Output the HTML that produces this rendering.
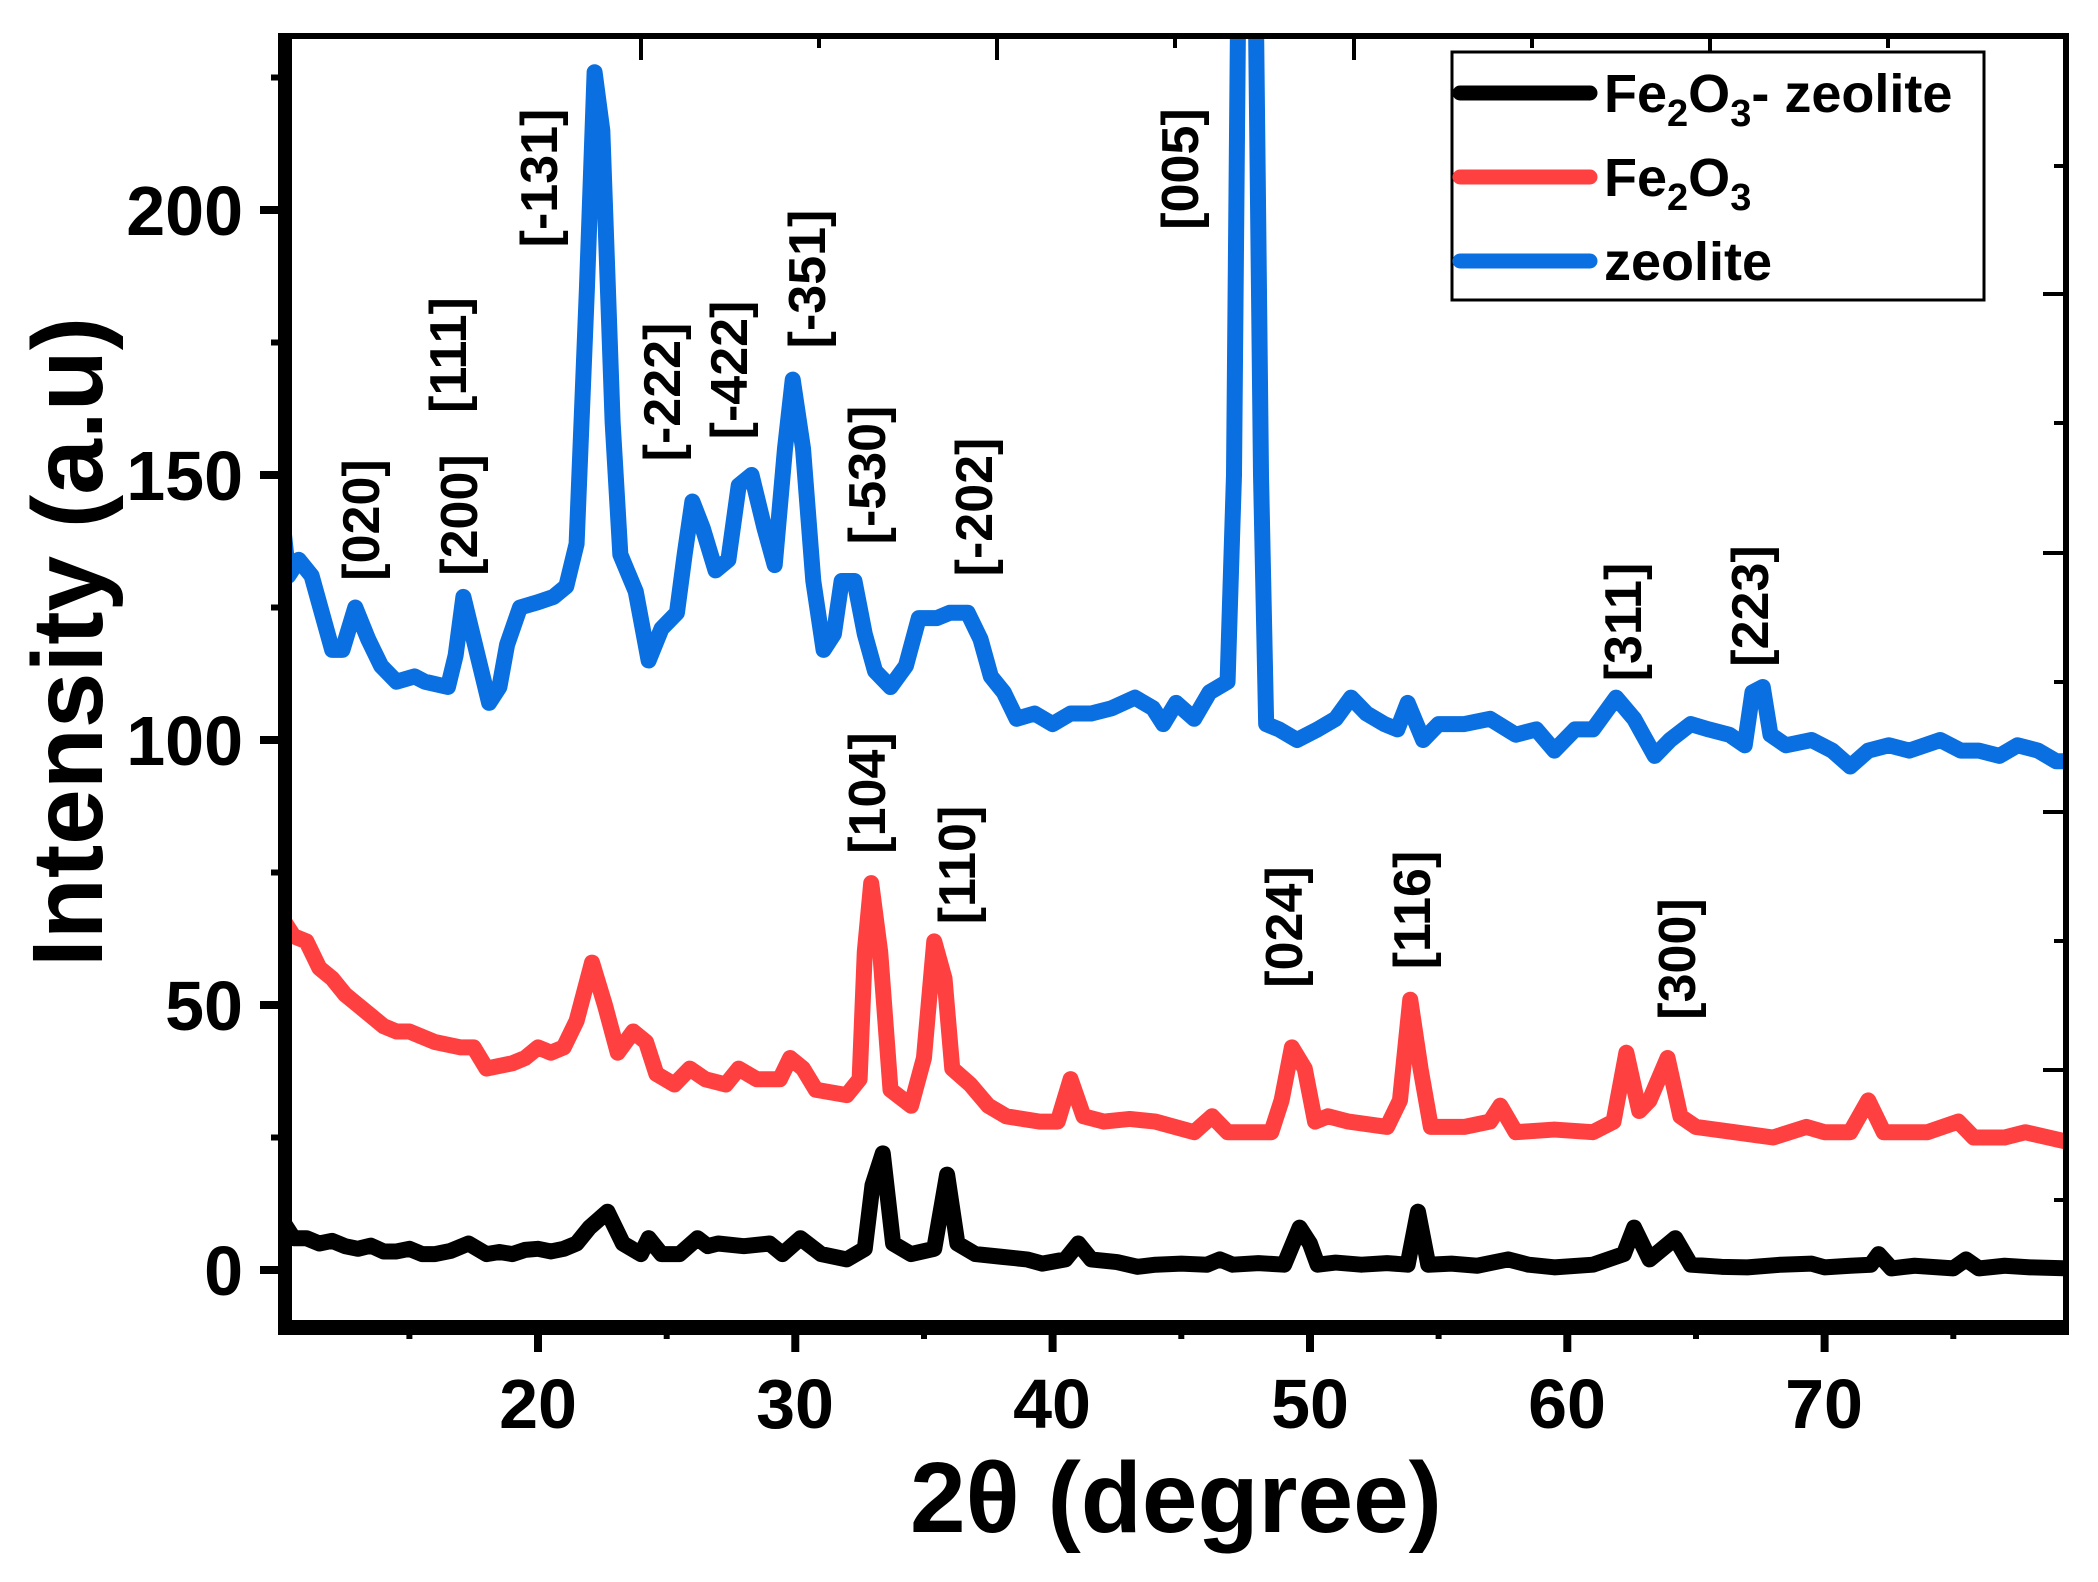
<!DOCTYPE html>
<html><head><meta charset="utf-8"><style>
html,body{margin:0;padding:0;background:#fff;}
svg{display:block;}
text{font-family:"Liberation Sans",Arial,sans-serif;font-weight:bold;fill:#000;}
</style></head><body>
<svg width="2098" height="1582" viewBox="0 0 2098 1582" xmlns="http://www.w3.org/2000/svg">
<defs><clipPath id="cp"><rect x="285" y="38" width="1779" height="1284"/></clipPath></defs>
<g clip-path="url(#cp)">
<g transform="matrix(25.73 0 0 -5.3 23.4 1270)" fill="none" stroke-width="16" stroke-linejoin="round" stroke-linecap="round">
<polyline vector-effect="non-scaling-stroke" stroke="#000" points="10.1,9 10.5,6 11,6 11.5,5 12,5.5 12.5,4.5 13,4 13.5,4.6 14,3.5 14.5,3.5 15,4 15.5,3 16,3 16.6,3.6 17.3,5 18,3 18.5,3.4 19,3 19.5,3.8 20,4 20.5,3.5 21,4 21.5,5 22,8 22.7,11 23.3,5 24,3 24.3,6 24.8,3 25.5,3 26.2,6 26.6,4.5 27,5 28,4.5 29,5 29.5,3 30.2,6 31,3 32,2 32.7,4 33.0,16 33.4,22 33.8,5 34.5,3 35.4,4 35.9,18 36.3,5 37,3 38,2.5 39,2 39.6,1.2 40.5,2 41,5 41.5,2 42.5,1.5 43.3,0.6 44,1 45,1.2 46,1 46.5,2 47,1 48,1.3 49,1 49.6,8 50,5 50.3,1 51,1.4 52,1 53,1.3 53.8,1 54.2,11 54.6,1 55.5,1.2 56.5,0.8 57.7,2 58.5,1 59.5,0.5 61,1 62.2,3 62.6,8 63.2,2 64.2,6 64.8,1 66,0.6 67,0.5 68.3,1 69.5,1.2 70,0.5 71,0.8 71.8,1 72.1,3 72.6,0.3 73.5,0.8 75,0.3 75.5,2 76,0.3 77,0.8 78,0.5 79.6,0.3"/>
<polyline vector-effect="non-scaling-stroke" stroke="#ff4040" points="10.1,66 10.5,63 11,62 11.5,57 12,55 12.5,52 13,50 13.5,48 14,46 14.5,45 15,45 16,43 17,42 17.5,42 18,38 19,39 19.5,40 20,42 20.5,41 21,42 21.5,47 22.1,58 22.6,50 23.1,41 23.7,45 24.2,43 24.6,37 25.3,35 25.9,38 26.5,36 27.3,35 27.8,38 28.5,36 29.4,36 29.8,40 30.3,38 30.8,34 32,33 32.5,36 32.7,60 32.95,73 33.3,60 33.7,34 34.5,31 35.0,40 35.4,62 35.8,55 36.1,38 36.8,35 37.5,31 38.2,29 39.5,28 40.2,28 40.7,36 41.2,29 42,28 43,28.5 44,28 45.5,26 46.2,29 46.8,26 48.5,26 48.9,32 49.3,42 49.8,38 50.2,28 50.7,29 51.5,28 53,27 53.5,32 53.9,51 54.3,38 54.7,27 56,27 57,28 57.4,31 58,26 59.5,26.5 61,26 61.8,28 62.3,41 62.8,30 63.2,32 63.9,40 64.4,29 65,27 66.5,26 68,25 69.3,27 70,26 71,26 71.7,32 72.3,26 74,26 75.2,28 75.8,25 77,25 77.8,26 79.6,24"/>
<polyline vector-effect="non-scaling-stroke" stroke="#0a6fe0" points="10.1,140 10.3,131 10.7,134 11.2,131 11.6,124 12,117 12.4,117 12.9,125 13.4,119 13.9,114 14.5,111 15.2,112 15.6,111 16.5,110 16.8,116 17.1,127 17.5,119 18.1,107 18.5,110 18.8,118 19.3,125 20,126 20.6,127 21.1,129 21.5,137 21.9,185 22.2,226 22.5,215 22.9,160 23.2,135 23.8,128 24.3,115 24.8,121 25.4,124 25.7,135 26,145 26.4,140 26.9,132 27.4,134 27.8,148 28.3,150 28.8,140 29.2,133 29.6,155 29.9,168 30.3,155 30.7,130 31.1,117 31.5,120 31.8,130 32.3,130 32.7,120 33.1,113 33.7,110 34.3,114 34.8,123 35.5,123 36,124 36.7,124 37.2,119 37.6,112 38.1,109 38.6,104 39.3,105 40,103 40.7,105 41.5,105 42.3,106 43.2,108 43.9,106 44.3,103 44.8,107 45.5,104 46.1,109 46.8,111 47.05,150 47.25,260 47.65,260 47.85,260 48.1,150 48.3,103 48.8,102 49.5,100 50.3,102 51,104 51.6,108 52.2,105 52.9,103 53.4,102 53.8,107 54.4,100 55,103 56,103 57,104 58,101 58.8,102 59.5,98 60.3,102 61,102 61.9,108 62.6,104 63.4,97 64,100 64.8,103 65.5,102 66.3,101 66.9,99 67.2,109 67.6,110 67.9,101 68.5,99 69.5,100 70.3,98 71,95 71.7,98 72.5,99 73.3,98 74.5,100 75.3,98 76,98 76.8,97 77.5,99 78.3,98 79,96 79.6,96"/>
</g>
</g>
<g font-size="52" text-anchor="middle">
<text transform="translate(379,520) rotate(-90)">[020]</text>
<text transform="translate(477,515) rotate(-90)">[200]</text>
<text transform="translate(466,355) rotate(-90)">[111]</text>
<text transform="translate(557,178) rotate(-90)">[-131]</text>
<text transform="translate(680,392) rotate(-90)">[-222]</text>
<text transform="translate(747,370) rotate(-90)">[-422]</text>
<text transform="translate(825,279) rotate(-90)">[-351]</text>
<text transform="translate(885,475) rotate(-90)">[-530]</text>
<text transform="translate(992,507) rotate(-90)">[-202]</text>
<text transform="translate(1198,169) rotate(-90)">[005]</text>
<text transform="translate(1641,622) rotate(-90)">[311]</text>
<text transform="translate(1768,606) rotate(-90)">[223]</text>
<text transform="translate(885,793) rotate(-90)">[104]</text>
<text transform="translate(975,865) rotate(-90)">[110]</text>
<text transform="translate(1302,927) rotate(-90)">[024]</text>
<text transform="translate(1430,910) rotate(-90)">[116]</text>
<text transform="translate(1695,959) rotate(-90)">[300]</text>
</g>
<rect x="278" y="33" width="14" height="1301" fill="#000"/>
<rect x="278" y="1320" width="1791" height="15" fill="#000"/>
<line x1="285" y1="36" x2="2066" y2="36" stroke="#000" stroke-width="6"/>
<line x1="2066" y1="33" x2="2066" y2="1327" stroke="#000" stroke-width="6"/>
<g stroke="#000">
<g stroke-width="8">
<line x1="260" y1="1270" x2="285" y2="1270"/><line x1="260" y1="1005" x2="285" y2="1005"/><line x1="260" y1="740" x2="285" y2="740"/><line x1="260" y1="475" x2="285" y2="475"/><line x1="260" y1="210" x2="285" y2="210"/>
<line x1="538" y1="1327" x2="538" y2="1352"/><line x1="795.3" y1="1327" x2="795.3" y2="1352"/><line x1="1052.6" y1="1327" x2="1052.6" y2="1352"/><line x1="1310" y1="1327" x2="1310" y2="1352"/><line x1="1567.3" y1="1327" x2="1567.3" y2="1352"/><line x1="1824.6" y1="1327" x2="1824.6" y2="1352"/>
</g>
<g stroke-width="6">
<line x1="271" y1="1137.5" x2="285" y2="1137.5"/><line x1="271" y1="872.5" x2="285" y2="872.5"/><line x1="271" y1="607.5" x2="285" y2="607.5"/><line x1="271" y1="342.5" x2="285" y2="342.5"/><line x1="271" y1="77.5" x2="285" y2="77.5"/>
<line x1="409.4" y1="1327" x2="409.4" y2="1339"/><line x1="666.7" y1="1327" x2="666.7" y2="1339"/><line x1="924" y1="1327" x2="924" y2="1339"/><line x1="1181.3" y1="1327" x2="1181.3" y2="1339"/><line x1="1438.6" y1="1327" x2="1438.6" y2="1339"/><line x1="1696" y1="1327" x2="1696" y2="1339"/><line x1="1953.3" y1="1327" x2="1953.3" y2="1339"/>
</g>
<g stroke-width="4">
<line x1="641" y1="36" x2="641" y2="60"/><line x1="819" y1="36" x2="819" y2="48"/><line x1="997" y1="36" x2="997" y2="60"/><line x1="1175" y1="36" x2="1175" y2="48"/><line x1="1354" y1="36" x2="1354" y2="60"/><line x1="1532" y1="36" x2="1532" y2="48"/><line x1="1710" y1="36" x2="1710" y2="60"/><line x1="1888" y1="36" x2="1888" y2="48"/>
<line x1="2054" y1="166" x2="2066" y2="166"/><line x1="2043" y1="294" x2="2066" y2="294"/><line x1="2054" y1="423" x2="2066" y2="423"/><line x1="2043" y1="553" x2="2066" y2="553"/><line x1="2054" y1="682" x2="2066" y2="682"/><line x1="2043" y1="812" x2="2066" y2="812"/><line x1="2054" y1="941" x2="2066" y2="941"/><line x1="2043" y1="1070" x2="2066" y2="1070"/><line x1="2054" y1="1200" x2="2066" y2="1200"/>
</g>
</g>
<g font-size="70" text-anchor="end">
<text x="243" y="1295">0</text>
<text x="243" y="1030">50</text>
<text x="243" y="765">100</text>
<text x="243" y="500">150</text>
<text x="243" y="235">200</text>
</g>
<g font-size="70" text-anchor="middle">
<text x="538" y="1428">20</text>
<text x="795" y="1428">30</text>
<text x="1052" y="1428">40</text>
<text x="1310" y="1428">50</text>
<text x="1567" y="1428">60</text>
<text x="1824" y="1428">70</text>
</g>
<text x="1176" y="1532" font-size="100" text-anchor="middle">2θ (degree)</text>
<text transform="translate(102,642) rotate(-90)" font-size="100" text-anchor="middle">Intensity (a.u)</text>
<rect x="1452" y="52" width="532" height="248" fill="#fff" stroke="#000" stroke-width="3"/>
<g stroke-width="15" stroke-linecap="round">
<line x1="1460" y1="93" x2="1590" y2="93" stroke="#000"/>
<line x1="1460" y1="177" x2="1590" y2="177" stroke="#ff4040"/>
<line x1="1460" y1="261" x2="1590" y2="261" stroke="#0a6fe0"/>
</g>
<g font-size="54">
<text x="1604" y="112">Fe<tspan font-size="38" dy="14">2</tspan><tspan dy="-14">O</tspan><tspan font-size="38" dy="14">3</tspan><tspan dy="-14">- zeolite</tspan></text>
<text x="1604" y="196">Fe<tspan font-size="38" dy="14">2</tspan><tspan dy="-14">O</tspan><tspan font-size="38" dy="14">3</tspan></text>
<text x="1604" y="280">zeolite</text>
</g>
</svg>
</body></html>
